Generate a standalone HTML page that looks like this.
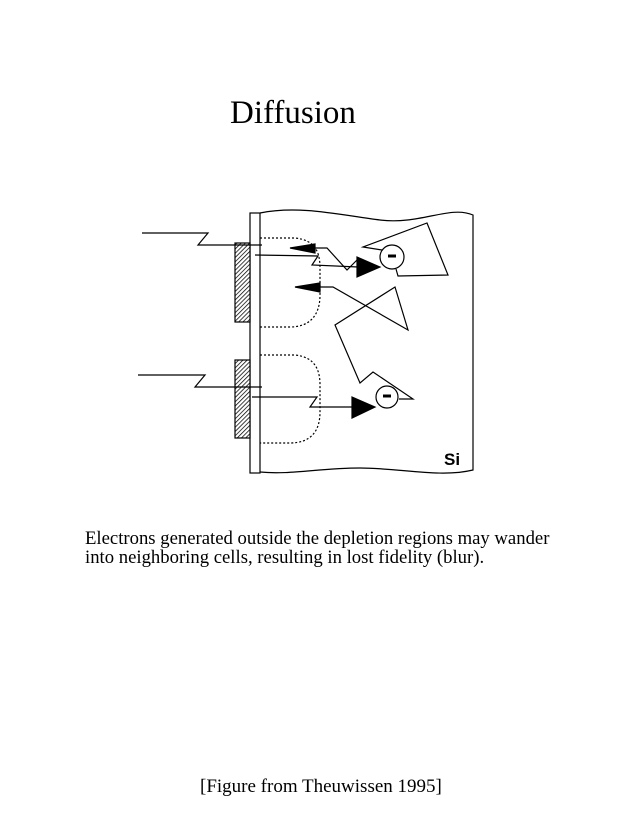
<!DOCTYPE html>
<html><head><style>
body{margin:0;background:#fff;width:637px;height:825px;position:relative;overflow:hidden;font-family:"Liberation Serif",serif;}
.t{position:absolute;white-space:nowrap;color:#000}
</style></head><body>
<div class="t" style="left:230px;top:95px;font-size:33px;">Diffusion</div>
<div class="t" style="left:85px;top:529px;font-size:18.7px;line-height:19px;">Electrons generated outside the depletion regions may wander<br>into neighboring cells, resulting in lost fidelity (blur).</div>
<div class="t" style="left:200px;top:776px;font-size:19px;">[Figure from Theuwissen 1995]</div>
<svg width="637" height="825" style="position:absolute;left:0;top:0" fill="none" stroke="#000" stroke-width="1.2">
<defs><pattern id="h" width="3" height="3" patternUnits="userSpaceOnUse" patternTransform="rotate(45)"><rect width="3" height="3" fill="#fff" stroke="none"/><line x1="0" y1="0" x2="0" y2="3" stroke="#000" stroke-width="1.5"/></pattern></defs>
<path d="M260,213 C300,205 340,215 380,220 C420,225 450,205 473,215 L473,470 C440,478 400,468 360,468 C320,468 290,475 260,472"/>
<rect x="250" y="213" width="10" height="260" fill="#fff"/>
<rect x="235" y="243" width="15" height="79" fill="url(#h)"/>
<rect x="235" y="360" width="15" height="78" fill="url(#h)"/>
<path d="M260,238 L295,238 C315,240 320,252 320,268 L320,295 C320,315 310,327 290,327 L260,327" stroke-dasharray="2,2"/>
<path d="M260,355 L295,355 C315,357 320,370 320,385 L320,412 C320,432 310,443 290,443 L260,443" stroke-dasharray="2,2"/>
<polyline points="142,233 208,233 198,245 262,245"/>
<polyline points="255,255 318,256 312,265 358,267"/>
<polygon points="380,267 357,257 357,277" fill="#000"/>
<polygon points="290,248 315,244 315,253" fill="#000"/>
<polyline points="315,248 327,248 347,270 357,260"/>
<circle cx="392" cy="257" r="12"/>
<line x1="388" y1="256" x2="396" y2="256" stroke-width="3"/>
<polyline points="382,250 363,247 427,223 448,275 398,276 396,269"/>
<polygon points="295,287 320,283 320,292" fill="#000"/>
<polyline points="320,287 333,287 408,330 395,287 335,325 360,383 373,372 413,399 399,399"/>
<circle cx="387" cy="397" r="11"/>
<line x1="383" y1="396" x2="391" y2="396" stroke-width="3"/>
<polyline points="138,375 205,375 195,387 262,387"/>
<polyline points="252,397 317,397 310,407 352,407"/>
<polygon points="375,407 352,397 352,418" fill="#000"/>
</svg>
<div class="t" style="left:444px;top:450px;font-size:17px;font-weight:bold;font-family:'Liberation Sans',sans-serif;">Si</div>
</body></html>
